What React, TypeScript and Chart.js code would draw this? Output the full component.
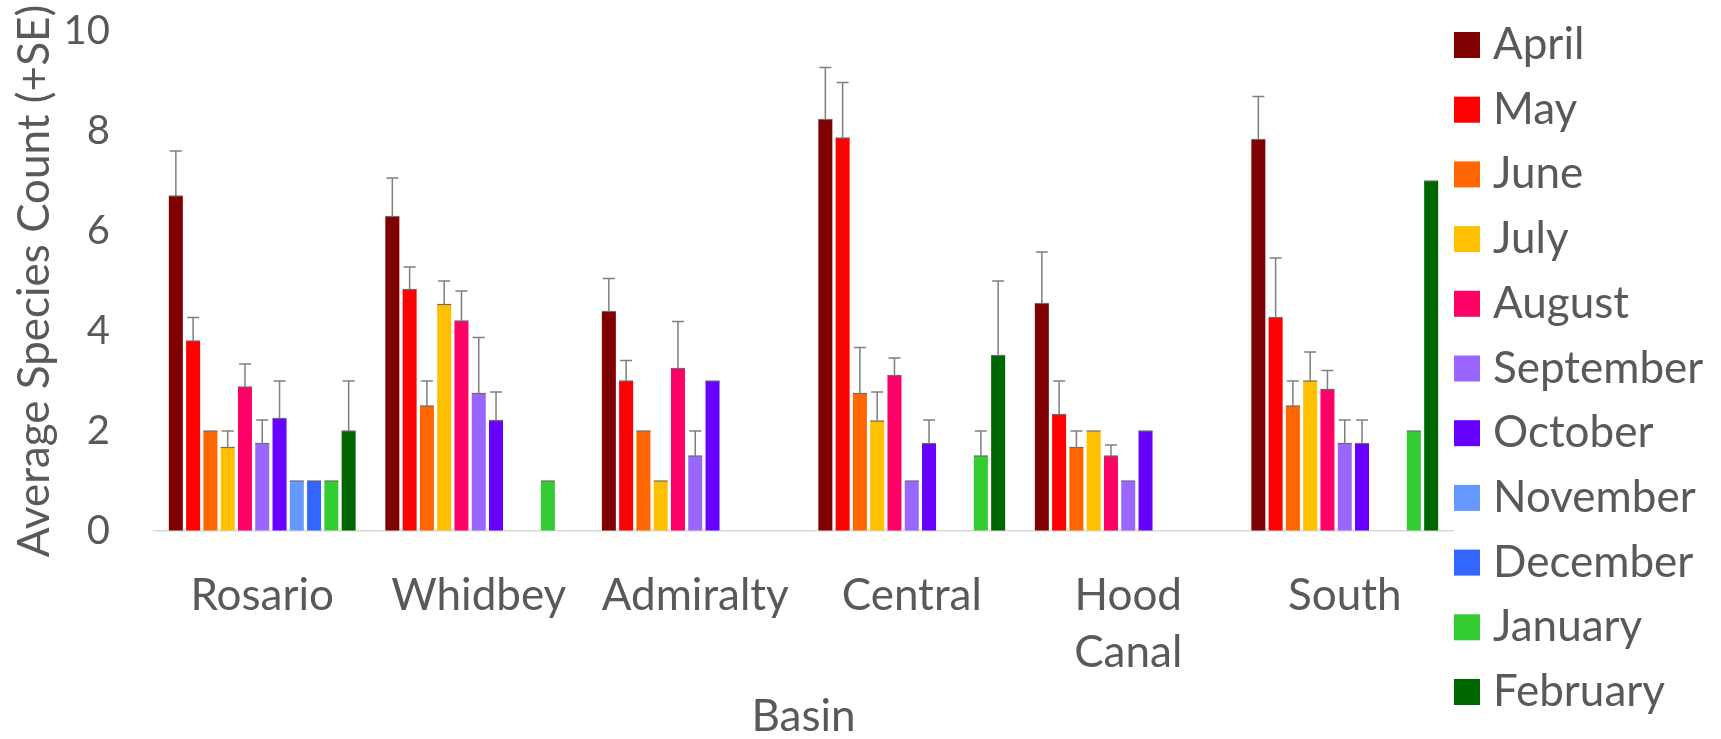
import React, { useEffect, useRef } from "react";
import { Chart, registerables } from "chart.js";

Chart.register(...registerables);

const basins: (string | string[])[] = ["Rosario", "Whidbey", "Admiralty", "Central", ["Hood", "Canal"], "South"];
const months = ["April", "May", "June", "July", "August", "September", "October", "November", "December", "January", "February"];
const monthColors = ["#7F0000", "#FF0000", "#FF6600", "#FFC000", "#FF0066", "#9966FF", "#6600FF", "#6699FF", "#3366FF", "#33CC33", "#006600"];

const april = [6.7, 6.29, 4.39, 8.23, 4.55, 7.83];
const aprilSE = [0.9, 0.77, 0.66, 1.04, 1.03, 0.86];
const may = [3.8, 4.83, 3.0, 7.86, 2.33, 4.27];
const maySE = [0.47, 0.45, 0.41, 1.11, 0.67, 1.19];
const june = [2, 2.5, 2, 2.75, 1.67, 2.5];
const juneSE = [0, 0.5, 0, 0.92, 0.33, 0.5];
const july = [1.67, 4.53, 1, 2.2, 2, 3];
const julySE = [0.33, 0.47, 0, 0.58, 0, 0.58];
const august = [2.88, 4.2, 3.25, 3.11, 1.5, 2.83];
const augustSE = [0.46, 0.6, 0.94, 0.35, 0.22, 0.38];
const september = [1.75, 2.75, 1.5, 1, 1, 1.75];
const septemberSE = [0.47, 1.12, 0.5, 0, 0, 0.47];
const october = [2.25, 2.21, 3, 1.75, 2, 1.75];
const octoberSE = [0.75, 0.57, 0, 0.47, 0, 0.47];
const november = [1, null, null, null, null, null];
const novemberSE = [0, 0, 0, 0, 0, 0];
const december = [1, null, null, null, null, null];
const decemberSE = [0, 0, 0, 0, 0, 0];
const january = [1, 1, null, 1.5, null, 2];
const januarySE = [0, 0, 0, 0.5, 0, 0];
const february = [2, null, null, 3.51, null, 7];
const februarySE = [1, 0, 0, 1.49, 0, 0];

const seriesValues = [april, may, june, july, august, september, october, november, december, january, february];
const seriesSE = [aprilSE, maySE, juneSE, julySE, augustSE, septemberSE, octoberSE, novemberSE, decemberSE, januarySE, februarySE];

const yTicks = [0, 2, 4, 6, 8, 10];

const TEXT = "#595959";
const FONT = "Lato";

const errorBarPlugin = {
  id: "errorBars",
  afterDatasetsDraw(chart: any) {
    const ctx = chart.ctx;
    const yScale = chart.scales.y;
    ctx.save();
    chart.data.datasets.forEach((ds: any, i: number) => {
      const meta = chart.getDatasetMeta(i);
      meta.data.forEach((bar: any, j: number) => {
        const v = ds.data[j];
        if (v == null) return;
        const p = bar.getProps(["x", "y", "width"], true);
        ctx.strokeStyle = "#6b6b6b";
        ctx.lineWidth = 1.2;
        ctx.beginPath();
        ctx.moveTo(p.x - p.width / 2, p.y);
        ctx.lineTo(p.x + p.width / 2, p.y);
        ctx.stroke();
        const e = ds.se[j];
        if (e && e > 0) {
          const yt = yScale.getPixelForValue(v + e);
          ctx.strokeStyle = "#7f7f7f";
          ctx.lineWidth = 1.5;
          ctx.beginPath();
          ctx.moveTo(p.x, p.y);
          ctx.lineTo(p.x, yt);
          ctx.moveTo(p.x - 6, yt);
          ctx.lineTo(p.x + 6, yt);
          ctx.stroke();
        }
      });
    });
    ctx.restore();
  },
};

const legendPlugin = {
  id: "sideLegend",
  afterDraw(chart: any) {
    const ctx = chart.ctx;
    const x0 = chart.chartArea.right + 1;
    ctx.save();
    ctx.font = `44px ${FONT}`;
    ctx.textAlign = "left";
    ctx.textBaseline = "alphabetic";
    chart.data.datasets.forEach((ds: any, i: number) => {
      const cy = 45 + i * 64.7;
      ctx.fillStyle = ds.backgroundColor;
      ctx.fillRect(x0, cy - 13, 26, 26);
      ctx.fillStyle = TEXT;
      ctx.fillText(ds.label, x0 + 39, cy + 14);
    });
    ctx.restore();
  },
};

export default function App() {
  const canvasRef = useRef<HTMLCanvasElement | null>(null);

  useEffect(() => {
    if (!canvasRef.current) return;
    Chart.defaults.font.family = FONT;
    Chart.defaults.color = TEXT;
    const chart = new Chart(canvasRef.current, {
      type: "bar",
      data: {
        labels: basins,
        datasets: months.map((m, i) => ({
          label: m,
          data: seriesValues[i],
          se: seriesSE[i],
          backgroundColor: monthColors[i],
          borderWidth: 0,
          categoryPercentage: 0.878,
          barPercentage: 0.81,
        })) as any,
      },
      options: {
        responsive: false,
        animation: false,
        layout: { padding: { left: 0, top: 31, right: 268, bottom: 0 } },
        plugins: {
          legend: { display: false },
          tooltip: { enabled: false },
        },
        scales: {
          x: {
            grid: { display: false, drawTicks: false },
            border: { display: true, color: "#d9d9d9", width: 1.5 },
            ticks: {
              font: { size: 44, lineHeight: 1.3 },
              color: TEXT,
              padding: 36,
              maxRotation: 0,
              autoSkip: false,
            },
            title: {
              display: true,
              text: "Basin",
              font: { size: 44, lineHeight: 1 },
              color: TEXT,
              padding: { top: 0, bottom: 0 },
            },
            afterFit(scale: any) {
              scale.height = 208;
            },
          },
          y: {
            min: 0,
            max: 10,
            grid: {
              display: true,
              drawOnChartArea: false,
              drawTicks: true,
              tickLength: 44,
              color: "rgba(0,0,0,0)",
            },
            border: { display: false },
            afterBuildTicks(scale: any) {
              scale.ticks = yTicks.map((v) => ({ value: v }));
            },
            ticks: {
              font: { size: 40 },
              color: TEXT,
              padding: 0,
            },
            title: {
              display: true,
              text: "Average Species Count (+SE)",
              font: { size: 44 },
              color: TEXT,
              padding: { top: 8, bottom: 0 },
            },
            afterFit(scale: any) {
              scale.width = 154;
            },
          },
        },
      } as any,
      plugins: [errorBarPlugin, legendPlugin],
    });
    return () => chart.destroy();
  }, []);

  return (
    <div style={{ position: "fixed", left: 0, top: 0, width: 1721, height: 739, background: "#fff" }}>
      <canvas ref={canvasRef} width={1721} height={739} style={{ display: "block" }} />
    </div>
  );
}
